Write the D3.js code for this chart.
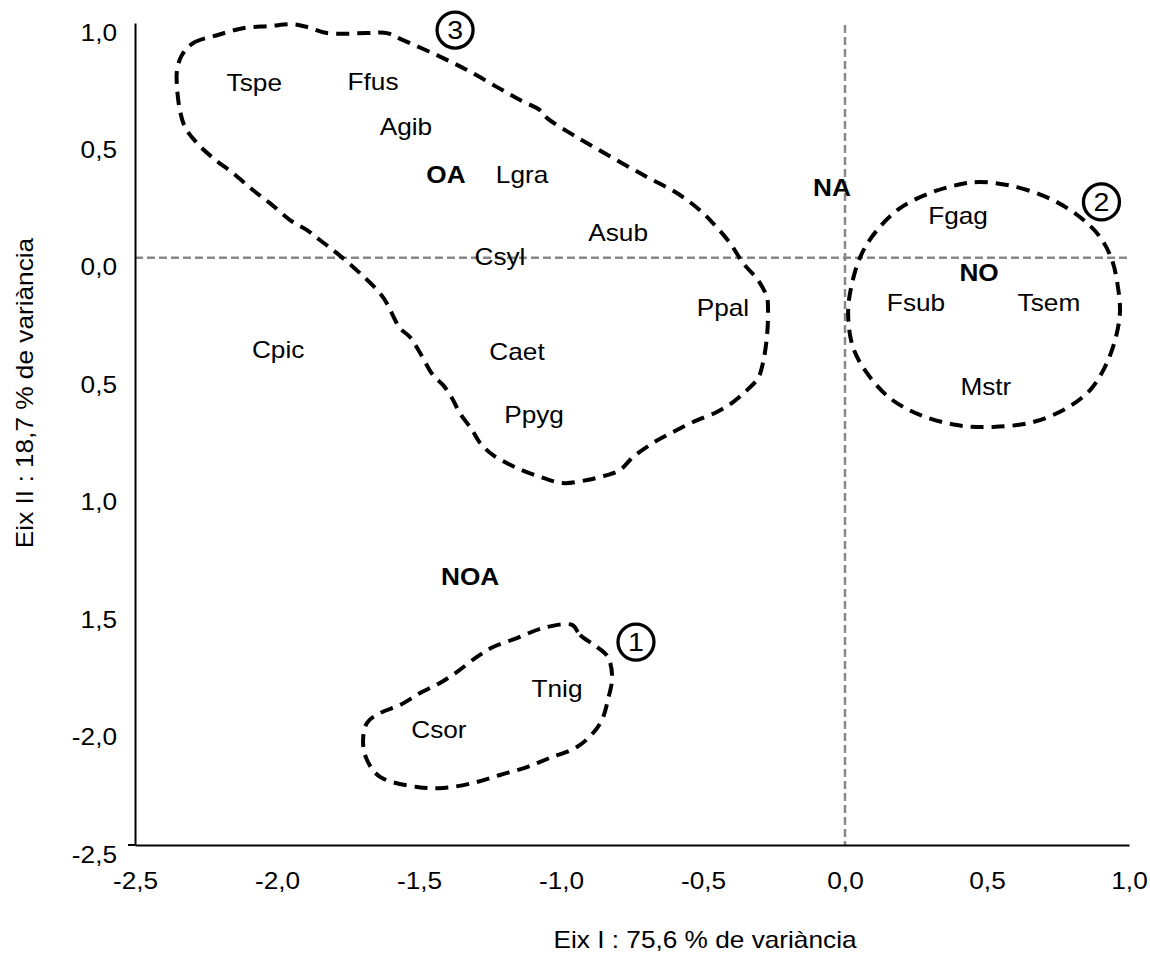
<!DOCTYPE html>
<html lang="en">
<head>
    <meta charset="UTF-8">
    <title>Eix I / Eix II</title>
    <script src="https://cdn.jsdelivr.net/npm/d3@7"></script>
    <style>
        body{
            margin: 0;
            background: white;
        }
        svg text{
            font-family: "Liberation Sans", Arial, sans-serif;
            font-size: 23px;
            fill: black;
        }
        .axis path{
            stroke: black;
            stroke-width: 2;
        }
        .refLine{
            stroke: #888888;
            stroke-width: 2.5;
            stroke-dasharray: 8,4;
        }
        .outline{
            fill: none;
            stroke: black;
            stroke-width: 4;
            stroke-dasharray: 13,8;
        }
    </style>
</head>
<body>
<svg id="main" width="1150" height="954"></svg>
<script>
    // tick values and the labels as printed on the original
    const xTicks = [-2.5, -2, -1.5, -1, -0.5, 0, 0.5, 1];
    const xTickLabels = ["-2,5", "-2,0", "-1,5", "-1,0", "-0,5", "0,0", "0,5", "1,0"];
    const yTicks = [1, 0.5, 0, -0.5, -1, -1.5, -2, -2.5];
    const yTickLabels = ["1,0", "0,5", "0,0", "0,5", "1,0", "1,5", "-2,0", "-2,5"];

    // species / group labels (Eix I, Eix II)
    const labelNames = ["Tspe","Ffus","Agib","OA","Lgra","Asub","Csyl","NA","Fgag","NO","Fsub","Tsem","Mstr","Ppal","Cpic","Caet","Ppyg","NOA","Tnig","Csor"];
    const labelX = [-2.08,-1.662,-1.546,-1.405,-1.137,-0.799,-1.215,-0.046,0.398,0.472,0.25,0.718,0.496,-0.43,-1.996,-1.155,-1.095,-1.32,-1.014,-1.43];
    const labelY = [0.744,0.748,0.557,0.352,0.352,0.106,0.003,0.297,0.178,-0.065,-0.192,-0.192,-0.55,-0.214,-0.393,-0.401,-0.669,-1.359,-1.836,-2.01];
    const boldLabels = ["OA","NA","NO","NOA"];

    // circled group numbers
    const groupNums = ["1","2","3"];
    const groupNumX = [-0.736, 0.903, -1.373];
    const groupNumY = [-1.636, 0.238, 0.970];

    // hand drawn enclosures, traced in axis units
    const group1 = [[-0.961,-1.563],[-0.933,-1.606],[-0.873,-1.657],[-0.835,-1.699],[-0.82,-1.785],[-0.835,-1.883],[-0.856,-1.968],[-0.887,-2.023],[-0.944,-2.083],[-1.039,-2.129],[-1.12,-2.168],[-1.215,-2.202],[-1.31,-2.236],[-1.415,-2.257],[-1.507,-2.253],[-1.637,-2.21],[-1.683,-2.138],[-1.697,-2.061],[-1.683,-1.98],[-1.637,-1.938],[-1.567,-1.904],[-1.496,-1.853],[-1.426,-1.81],[-1.366,-1.763],[-1.296,-1.699],[-1.239,-1.657],[-1.155,-1.619],[-1.063,-1.576]];
    const group2 = [[0.475,0.323],[0.606,0.301],[0.732,0.246],[0.827,0.174],[0.898,0.089],[0.94,-0.009],[0.961,-0.124],[0.968,-0.235],[0.951,-0.35],[0.915,-0.465],[0.863,-0.563],[0.782,-0.639],[0.662,-0.699],[0.521,-0.72],[0.394,-0.712],[0.264,-0.669],[0.158,-0.597],[0.077,-0.49],[0.028,-0.38],[0.011,-0.235],[0.025,-0.107],[0.06,0.02],[0.113,0.118],[0.194,0.212],[0.299,0.276],[0.394,0.31]];
    const group3 = [[-2.335,0.863],[-2.296,0.914],[-2.211,0.948],[-2.12,0.978],[-2.025,0.987],[-1.947,0.995],[-1.894,0.983],[-1.824,0.957],[-1.683,0.957],[-1.613,0.957],[-1.556,0.927],[-1.437,0.863],[-1.331,0.8],[-1.225,0.727],[-1.144,0.672],[-1.074,0.629],[-1.049,0.595],[-0.944,0.514],[-0.817,0.425],[-0.697,0.344],[-0.592,0.276],[-0.511,0.203],[-0.465,0.148],[-0.405,0.063],[-0.359,-0.022],[-0.306,-0.095],[-0.275,-0.167],[-0.271,-0.222],[-0.275,-0.337],[-0.289,-0.448],[-0.306,-0.512],[-0.345,-0.563],[-0.394,-0.614],[-0.451,-0.656],[-0.535,-0.699],[-0.606,-0.742],[-0.676,-0.788],[-0.746,-0.848],[-0.792,-0.903],[-0.838,-0.925],[-0.908,-0.946],[-0.993,-0.959],[-1.063,-0.937],[-1.155,-0.895],[-1.239,-0.84],[-1.285,-0.788],[-1.313,-0.733],[-1.356,-0.661],[-1.384,-0.597],[-1.415,-0.542],[-1.451,-0.499],[-1.496,-0.405],[-1.532,-0.337],[-1.567,-0.299],[-1.627,-0.167],[-1.708,-0.065],[-1.789,0.02],[-1.849,0.076],[-1.894,0.118],[-1.954,0.161],[-2.025,0.233],[-2.085,0.289],[-2.155,0.361],[-2.225,0.425],[-2.282,0.489],[-2.324,0.557],[-2.342,0.629],[-2.352,0.727],[-2.352,0.8]];

    // the original text is drawn a bit wider than Arial
    const SX = 1.14;

    const svg = d3.select("svg#main");

    const xScale = d3.scaleLinear().domain([-2.5, 1]).range([135, 1129]);
    const yScale = d3.scaleLinear().domain([-2.5, 1]).range([845, 23]);

    // dashed reference lines at 0
    svg.append("line").attr("class", "refLine")
        .attr("x1", xScale(0)).attr("x2", xScale(0))
        .attr("y1", yScale(1) + 2).attr("y2", yScale(-2.5));
    svg.append("line").attr("class", "refLine")
        .attr("x1", xScale(-2.5)).attr("x2", xScale(1))
        .attr("y1", yScale(0)).attr("y2", yScale(0));

    // enclosures
    const outline = d3.line()
        .x(d => xScale(d[0]))
        .y(d => yScale(d[1]))
        .curve(d3.curveCatmullRomClosed.alpha(0.5));
    svg.append("g").selectAll("path")
        .data([group1, group2, group3])
        .join("path")
        .attr("class", "outline")
        .attr("d", outline);

    // labels
    svg.append("g").selectAll("text")
        .data(labelNames)
        .join("text")
        .attr("transform", (d, i) => `translate(${xScale(labelX[i])},${yScale(labelY[i])}) scale(${SX},1)`)
        .attr("text-anchor", "middle")
        .attr("dy", "0.36em")
        .style("font-weight", d => boldLabels.includes(d) ? "bold" : "normal")
        .text(d => d);

    // circled numbers
    const nums = svg.append("g").selectAll("g")
        .data(groupNums)
        .join("g")
        .attr("transform", (d, i) => `translate(${xScale(groupNumX[i])},${yScale(groupNumY[i])})`);
    nums.append("circle")
        .attr("r", 18)
        .attr("fill", "white")
        .attr("stroke", "black")
        .attr("stroke-width", 3.3);
    nums.append("text")
        .attr("text-anchor", "middle")
        .attr("dy", "0.36em")
        .attr("transform", `scale(${SX},1)`)
        .style("font-size", "25px")
        .text(d => d);

    // axes
    const xAxisGroup = svg.append("g")
        .attr("class", "axis")
        .attr("transform", `translate(0,${yScale(-2.5)})`)
        .call(d3.axisBottom(xScale).tickValues(xTicks)
            .tickFormat((d, i) => xTickLabels[i])
            .tickSize(0).tickSizeOuter(0));
    xAxisGroup.selectAll("text")
        .attr("y", 44).attr("dy", 0)
        .attr("transform", `scale(${SX},1)`);

    const yAxisGroup = svg.append("g")
        .attr("class", "axis")
        .attr("transform", `translate(${xScale(-2.5)},0)`)
        .call(d3.axisLeft(yScale).tickValues(yTicks)
            .tickFormat((d, i) => yTickLabels[i])
            .tickSize(0).tickSizeOuter(0));
    yAxisGroup.selectAll("text")
        .attr("x", -18 / SX).attr("dy", 17)
        .attr("transform", `scale(${SX},1)`);
    yAxisGroup.append("line")
        .attr("x1", -7).attr("x2", 0)
        .attr("y1", yScale(-2.5)).attr("y2", yScale(-2.5))
        .attr("stroke", "black").attr("stroke-width", 2);
    svg.selectAll(".axis text").style("font-size", "23px").style("font-family", "'Liberation Sans', Arial, sans-serif");

    // axis titles
    svg.append("text")
        .attr("transform", `translate(705,948) scale(${SX},1)`)
        .attr("text-anchor", "middle")
        .text("Eix I : 75,6 % de variància");
    svg.append("text")
        .attr("transform", `translate(33,393) rotate(-90) scale(${SX},1)`)
        .attr("text-anchor", "middle")
        .text("Eix II : 18,7 % de variància");
</script>
</body>
</html>
